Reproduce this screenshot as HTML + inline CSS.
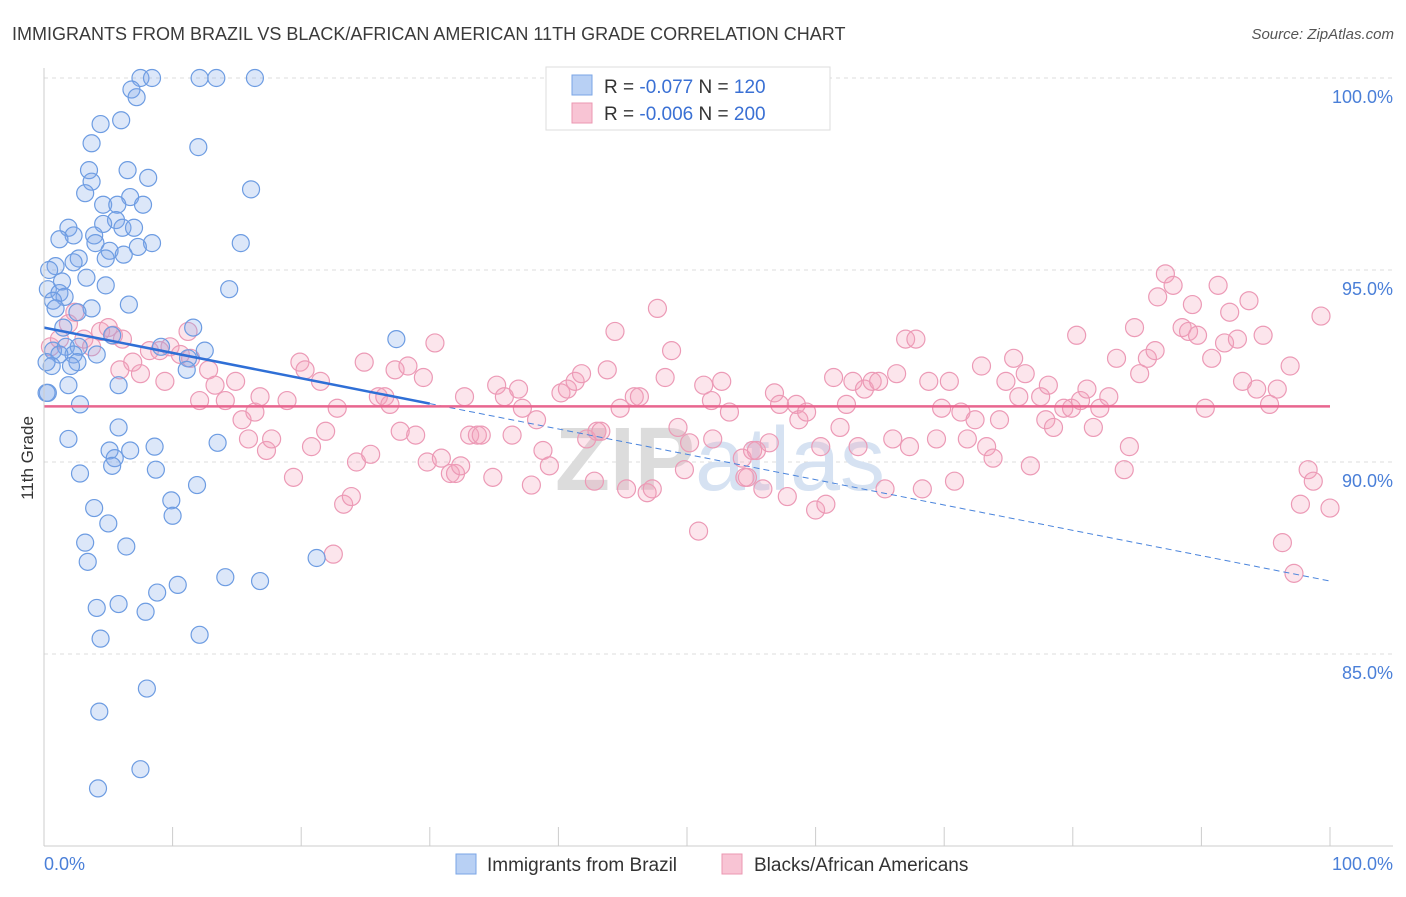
<!DOCTYPE html>
<html><head><meta charset="utf-8"><style>
body{margin:0;background:#fff;font-family:"Liberation Sans",sans-serif;}
svg text{font-family:"Liberation Sans",sans-serif;}
</style></head><body>
<svg id="chart" width="1406" height="892" viewBox="0 0 1406 892" xmlns="http://www.w3.org/2000/svg">
<text x="12" y="40" font-size="18" fill="#3a3a3a">IMMIGRANTS FROM BRAZIL VS BLACK/AFRICAN AMERICAN 11TH GRADE CORRELATION CHART</text>
<text x="1394" y="39" font-size="15" fill="#555" text-anchor="end" font-style="italic">Source: ZipAtlas.com</text>
<g id="grid"></g>
<text x="720" y="490" font-size="90" text-anchor="middle" fill="#e6e6e6" font-family="Liberation Serif"><tspan font-weight="bold" fill="#dcdcdc">ZIP</tspan><tspan fill="#d6e2f2" font-family="Liberation Sans">atlas</tspan></text>
<g id="points"></g>
<g id="trends"></g>
<g id="axes"></g>
<text transform="translate(33,458) rotate(-90)" font-size="17" fill="#333" text-anchor="middle">11th Grade</text>
<g>
<rect x="546" y="67" width="284" height="63" fill="#fff" stroke="#ddd"/>
<rect x="572" y="75" width="20" height="20" fill="#b8d0f4" stroke="#7aa5e6"/>
<text x="604" y="93" font-size="19" fill="#333">R = <tspan fill="#3a70d4">-0.077</tspan>   N = <tspan fill="#3a70d4">120</tspan></text>
<rect x="572" y="103" width="20" height="20" fill="#f8c4d4" stroke="#eb97b2"/>
<text x="604" y="120" font-size="19" fill="#333">R = <tspan fill="#3a70d4">-0.006</tspan>   N = <tspan fill="#3a70d4">200</tspan></text>
</g>
<g>
<rect x="456" y="854" width="20" height="20" fill="#b8d0f4" stroke="#7aa5e6"/>
<text x="487" y="871" font-size="19" fill="#333">Immigrants from Brazil</text>
<rect x="722" y="854" width="20" height="20" fill="#f8c4d4" stroke="#eb97b2"/>
<text x="754" y="871" font-size="19" fill="#333">Blacks/African Americans</text>
</g>
</svg>
<script>
const yTicks=[100,95,90,85];
const yTickLabels=["100.0%","95.0%","90.0%","85.0%"];
const xTickVals=[0,10,20,30,40,50,60,70,80,90,100];
const xEndLabels=["0.0%","100.0%"];
const brazilX=[7.5,8.4,12.1,13.4,16.4,6.8,7.2,4.4,6,3.7,12,3.5,6.5,8.1,3.7,3.2,16.1,6.7,4.6,5.7,7.7,5.6,4.6,6.1,7,1.9,2.3,3.9,1.2,8.4,15.3,4,5.1,7.3,6.2,4.8,2.7,2.3,0.9,0.4,1.4,3.3,4.8,14.4,0.3,1.2,1.6,0.7,6.6,0.9,3.7,2.6,11.6,1.5,27.4,5.3,2.7,1.7,9.1,12.5,0.7,4.1,2.3,1.2,11.2,2.6,0.6,2.1,11.1,5.8,1.9,0.3,2.8,5.8,1.9,13.5,8.6,5.1,6.7,5.5,5.3,8.7,2.8,11.9,9.9,3.9,10,5,3.2,6.4,3.4,21.2,14.1,16.8,10.4,8.8,4.1,5.8,7.9,4.4,12.1,8,4.3,7.5,4.2,0.2,0.2];
const brazilY=[100,100,100,100,100,99.7,99.5,98.8,98.9,98.3,98.2,97.6,97.6,97.4,97.3,97,97.1,96.9,96.7,96.7,96.7,96.3,96.2,96.1,96.1,96.1,95.9,95.9,95.8,95.7,95.7,95.7,95.5,95.6,95.4,95.3,95.3,95.2,95.1,95,94.7,94.8,94.6,94.5,94.5,94.4,94.3,94.2,94.1,94,94,93.9,93.5,93.5,93.2,93.3,93,93,93,92.9,92.9,92.8,92.8,92.8,92.7,92.6,92.5,92.5,92.4,92,92,91.8,91.5,90.9,90.6,90.5,90.4,90.3,90.3,90.1,89.9,89.8,89.7,89.4,89,88.8,88.6,88.4,87.9,87.8,87.4,87.5,87,86.9,86.8,86.6,86.2,86.3,86.1,85.4,85.5,84.1,83.5,82,81.5,91.8,92.6];
const blackX=[0.5,1.2,1.9,2.4,3.1,3.7,4.4,5.0,5.4,6.1,5.9,6.9,7.5,8.2,9.0,9.4,9.8,10.6,11.4,11.2,12.1,12.8,13.3,14.1,14.9,15.4,15.9,16.4,16.8,17.3,17.7,18.9,19.4,19.9,20.3,20.8,21.5,21.9,22.8,23.3,23.9,22.5,24.3,24.9,25.4,26.0,26.5,26.9,27.3,27.7,28.3,28.9,29.5,29.8,30.4,30.9,31.6,32.0,32.4,32.7,33.1,33.7,34.0,34.9,35.2,35.8,36.4,36.9,37.2,37.9,38.3,38.8,39.3,40.2,40.7,41.3,41.8,42.2,42.8,43.0,43.3,43.8,44.4,44.8,45.3,45.9,46.3,46.9,47.3,47.7,48.3,48.8,49.3,49.8,50.2,50.9,51.3,51.9,52.0,52.7,53.3,54.3,54.5,54.7,55.1,55.4,55.9,56.4,56.8,57.2,57.8,58.5,58.7,59.3,60.0,60.4,60.8,61.4,61.9,62.4,62.9,63.3,63.8,64.4,64.9,65.4,66.0,66.3,67.0,67.3,67.8,68.3,68.8,69.4,69.8,70.4,70.8,71.3,71.8,72.4,72.9,73.3,73.8,74.3,74.8,75.4,75.8,76.3,76.7,77.5,77.9,78.1,78.5,79.3,79.9,80.3,80.6,81.1,81.6,82.1,82.8,83.4,84.0,84.4,84.8,85.2,85.8,86.4,86.6,87.2,87.8,88.5,89.0,89.3,89.7,90.3,90.8,91.3,91.8,92.2,92.8,93.2,93.7,94.3,94.8,95.3,95.9,96.3,96.9,97.2,97.7,98.3,98.7,99.3,100];
const blackY=[93.0,93.2,93.6,93.9,93.2,93.0,93.4,93.5,93.3,93.2,92.4,92.6,92.3,92.9,92.9,92.1,93.0,92.8,92.7,93.4,91.6,92.4,92.0,91.6,92.1,91.1,90.6,91.3,91.7,90.3,90.6,91.6,89.6,92.6,92.4,90.4,92.1,90.8,91.4,88.9,89.1,87.6,90.0,92.6,90.2,91.7,91.7,91.5,92.4,90.8,92.5,90.7,92.2,90.0,93.1,90.1,89.7,89.7,89.9,91.7,90.7,90.7,90.7,89.6,92.0,91.7,90.7,91.9,91.4,89.4,91.1,90.3,89.9,91.8,91.9,92.1,92.3,90.6,89.5,90.8,90.8,92.4,93.4,91.4,89.3,91.7,91.7,89.2,89.3,94.0,92.2,92.9,90.9,89.8,90.5,88.2,92.0,91.6,90.6,92.1,91.3,90.1,89.6,89.6,90.3,90.3,89.3,90.5,91.8,91.5,89.1,91.5,91.1,91.3,88.75,90.4,88.9,92.2,90.9,91.5,92.1,90.4,91.9,92.1,92.1,89.3,90.6,92.3,93.2,90.4,93.2,89.3,92.1,90.6,91.4,92.1,89.5,91.3,90.6,91.1,92.5,90.4,90.1,91.1,92.1,92.7,91.7,92.3,89.9,91.7,91.1,92.0,90.9,91.4,91.4,93.3,91.6,91.9,90.9,91.4,91.7,92.7,89.8,90.4,93.5,92.3,92.7,92.9,94.3,94.9,94.6,93.5,93.4,94.1,93.3,91.4,92.7,94.6,93.1,93.9,93.2,92.1,94.2,91.9,93.3,91.5,91.9,87.9,92.5,87.1,88.9,89.8,89.5,93.8,88.8];
const brazilTrend=[93.5,86.9];
const blackTrend=[91.45,91.45];

const NS="http://www.w3.org/2000/svg";
const X0=44,X1=1330,YTOP=78,YBOT=846;
function sx(v){return X0+(v/100)*(X1-X0);}
function sy(v){return YTOP+(100-v)/20*(YBOT-YTOP);}
function mk(tag,attrs,parent){const e=document.createElementNS(NS,tag);for(const k in attrs)e.setAttribute(k,attrs[k]);parent.appendChild(e);return e;}
const grid=document.getElementById('grid'),axes=document.getElementById('axes'),pts=document.getElementById('points'),tr=document.getElementById('trends');
yTicks.forEach((t,i)=>{
  const l=mk('line',{x1:X0,x2:1393,y1:sy(t),y2:sy(t),stroke:'#dcdcdc','stroke-dasharray':'4,4'},grid);
  
  
  const tx=mk('text',{x:1393,y:sy(t)+25,'font-size':18,fill:'#4a7fd8','text-anchor':'end'},axes);
  tx.textContent=yTickLabels[i];
  
  
});
const ya=mk('line',{x1:X0,x2:X0,y1:68,y2:YBOT,stroke:'#ccc'},axes);


const xa=mk('line',{x1:X0,x2:1393,y1:YBOT,y2:YBOT,stroke:'#ccc'},axes);


xTickVals.forEach(v=>{
  const t=mk('line',{x1:sx(v),x2:sx(v),y1:827,y2:YBOT,stroke:'#ccc'},axes);
  
  
});
const xl0=mk('text',{x:44,y:870,'font-size':18,fill:'#4a7fd8'},axes);xl0.textContent=xEndLabels[0];


const xl1=mk('text',{x:1393,y:870,'font-size':18,fill:'#4a7fd8','text-anchor':'end'},axes);xl1.textContent=xEndLabels[1];



blackX.forEach((x,i)=>{
  const c=mk('circle',{cx:sx(x),cy:sy(blackY[i]),r:9,fill:'rgba(244,160,188,0.28)',stroke:'#ec9ab6','stroke-width':1.2},pts);
  
  
});
brazilX.forEach((x,i)=>{
  const c=mk('circle',{cx:sx(x),cy:sy(brazilY[i]),r:8.5,fill:'rgba(130,170,235,0.28)',stroke:'#6d9ce2','stroke-width':1.2},pts);
  
  
});
const bt=v=>brazilTrend[0]+(brazilTrend[1]-brazilTrend[0])*v/100;
const l1=mk('line',{x1:sx(0),y1:sy(bt(0)),x2:sx(30),y2:sy(bt(30)),stroke:'#2f6fd6','stroke-width':2.5},tr);


const l2=mk('line',{x1:sx(30),y1:sy(bt(30)),x2:sx(100),y2:sy(bt(100)),stroke:'#4a84dc','stroke-width':1,'stroke-dasharray':'6,4'},tr);


const l3=mk('line',{x1:sx(0),y1:sy(blackTrend[0]),x2:sx(100),y2:sy(blackTrend[1]),stroke:'#e8668f','stroke-width':2.5},tr);


</script>
</body></html>
